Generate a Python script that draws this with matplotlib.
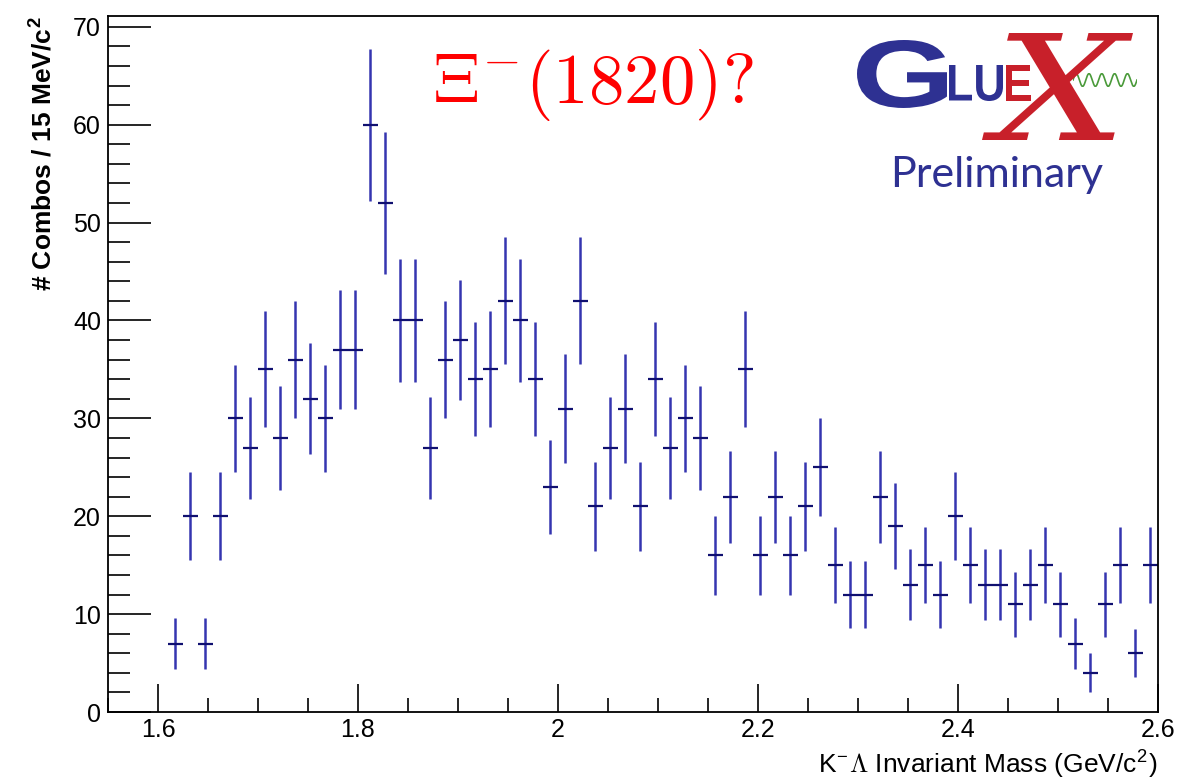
import numpy as np
import matplotlib.pyplot as plt
from matplotlib.ticker import MultipleLocator
from matplotlib.textpath import TextPath
from matplotlib.patches import PathPatch
from matplotlib.font_manager import FontProperties
from matplotlib.transforms import Affine2D

# histogram: 15 MeV bins starting at 1.55 GeV, only filled bins drawn
bin_width = 0.015
first_center = 1.6175
counts = [7, 20, 7, 20, 30, 27, 35, 28, 36, 32, 30, 37, 37, 60, 52, 40, 40, 27,
          36, 38, 34, 35, 42, 40, 34, 23, 31, 42, 21, 27, 31, 21, 34, 27, 30, 28,
          16, 22, 35, 16, 22, 16, 21, 25, 15, 12, 12, 22, 19, 13, 15, 12, 20, 15,
          13, 13, 11, 13, 15, 11, 7, 4, 11, 15, 6, 15]
x_ticks = [1.6, 1.8, 2.0, 2.2, 2.4, 2.6]
x_tick_labels = ['1.6', '1.8', '2', '2.2', '2.4', '2.6']
y_ticks = [0, 10, 20, 30, 40, 50, 60, 70]

counts = np.array(counts, dtype=float)
centers = first_center + bin_width * np.arange(len(counts))
errors = np.sqrt(counts)

plt.rcParams['font.family'] = ['Liberation Sans', 'DejaVu Sans']
plt.rcParams['mathtext.fontset'] = 'cm'

W, H = 1181, 778
fig = plt.figure(figsize=(W / 100, H / 100), dpi=100)
ax = fig.add_axes([0.0914, 0.0848, 0.8891, 0.8946])

ax.vlines(centers, counts - errors, counts + errors, color='#3535b0', lw=1.8)
ax.hlines(counts, centers - bin_width / 2, centers + bin_width / 2, color='#101070', lw=1.6)

ax.set_xlim(1.55, 2.6)
ax.set_ylim(0, 71.1)
ax.set_xticks(x_ticks)
ax.set_xticklabels(x_tick_labels)
ax.set_yticks(y_ticks)
ax.xaxis.set_minor_locator(MultipleLocator(0.05))
ax.yaxis.set_minor_locator(MultipleLocator(2))
ax.tick_params(axis='x', which='major', direction='in', length=20, width=1.2, labelsize=18, pad=4)
ax.tick_params(axis='x', which='minor', direction='in', length=10, width=1.2)
ax.tick_params(axis='y', which='major', direction='in', length=31, width=1.2, labelsize=18, pad=5)
ax.tick_params(axis='y', which='minor', direction='in', length=16, width=1.2)
for s in ax.spines.values():
    s.set_linewidth(1.3)

ax.set_ylabel('# Combos / 15 MeV/c$^{\\mathregular{2}}$', fontsize=19, fontweight='bold',
              loc='top', labelpad=12)
ax.set_xlabel('K$^{\\mathregular{-}}$$\\Lambda$ Invariant Mass (GeV/c$^{\\mathregular{2}}$)',
              fontsize=19, loc='right', labelpad=4)

fig.text(0.502, 0.891, r'$\Xi^{-}(1820)?$', color='red', fontsize=51, ha='center', va='center')


# GlueX preliminary logo: glyph outlines stretched into pixel boxes (left, top, right, bottom)
def logo_glyph(s, box, color, prop):
    path = TextPath((0, 0), s, size=100, prop=prop)
    bb = path.get_extents()
    x0, y0, x1, y1 = box
    tr = (Affine2D().translate(-bb.x0, -bb.y0)
          .scale((x1 - x0) / bb.width, (y1 - y0) / bb.height)
          .translate(x0, H - y1).scale(1 / W, 1 / H))
    fig.add_artist(PathPatch(path, transform=tr + fig.transFigure, fc=color, ec='none'))


blue = '#2e3192'
red = '#c8202a'
bold = FontProperties(family='Liberation Sans', weight='bold')
logo_glyph('G', (857, 40, 947, 108), blue, bold)
logo_glyph('LU', (949, 65, 1003, 101), blue, bold)
logo_glyph('E', (1006, 65, 1031, 101), red, bold)
logo_glyph('X', (982, 33, 1133, 140), red, FontProperties(family='DejaVu Serif', style='italic'))
wave = fig.add_axes([1073 / W, 1 - 87 / H, 64 / W, 14 / H])
t = np.linspace(0, 5 * 2 * np.pi, 300)
wave.plot(t, np.sin(t), color='#4a9a3a', lw=1.2)
wave.set_xlim(0, t[-1])
wave.axis('off')
fig.text(997 / W, 1 - 175 / H, 'Preliminary', color=blue, fontsize=31, family='Lato',
         ha='center', va='center')

fig.savefig('out.png', dpi=100)
